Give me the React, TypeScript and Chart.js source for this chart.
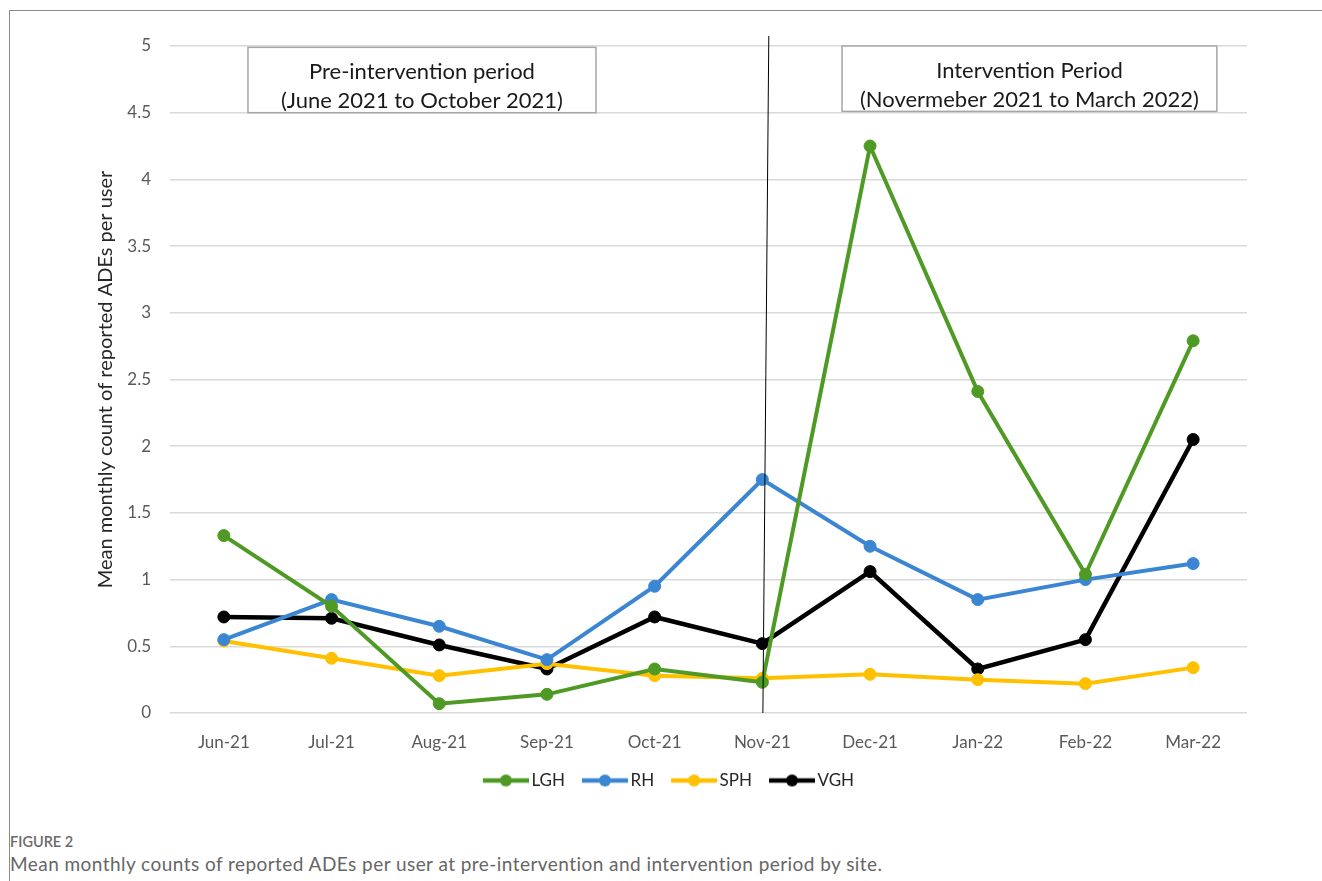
import React, { useEffect, useRef } from "react";
import { Chart, registerables } from "chart.js";

Chart.register(...registerables);

const months = ["Jun-21", "Jul-21", "Aug-21", "Sep-21", "Oct-21", "Nov-21", "Dec-21", "Jan-22", "Feb-22", "Mar-22"];
const lgh = [1.33, 0.8, 0.07, 0.14, 0.33, 0.23, 4.25, 2.41, 1.04, 2.79];
const rh = [0.55, 0.85, 0.65, 0.4, 0.95, 1.75, 1.25, 0.85, 1.0, 1.12];
const sph = [0.54, 0.41, 0.28, 0.37, 0.28, 0.26, 0.29, 0.25, 0.22, 0.34];
const vgh = [0.72, 0.71, 0.51, 0.33, 0.72, 0.52, 1.06, 0.33, 0.55, 2.05];
const seriesNames = ["LGH", "RH", "SPH", "VGH"];
const seriesColors = ["#4E9A24", "#3A86D2", "#FFC000", "#000000"];
const preLabel = ["Pre-intervention period", "(June 2021 to October 2021)"];
const postLabel = ["Intervention Period", "(Novermeber 2021 to March 2022)"];
const yTitle = "Mean monthly count of reported ADEs per user";
const captionHead = "FIGURE 2";
const captionText = "Mean monthly counts of reported ADEs per user at pre-intervention and intervention period by site.";

const FONT = "Lato, 'Noto Sans', sans-serif";

function legendImage(color: string): HTMLCanvasElement {
  const c = document.createElement("canvas");
  c.width = 51;
  c.height = 14;
  const g = c.getContext("2d")!;
  g.strokeStyle = color;
  g.lineWidth = 4.5;
  g.beginPath();
  g.moveTo(5, 7);
  g.lineTo(51, 7);
  g.stroke();
  g.fillStyle = color;
  g.beginPath();
  g.arc(28, 7, 6, 0, Math.PI * 2);
  g.fill();
  return c;
}

const annotations = {
  id: "annotations",
  afterDatasetsDraw(chart: any) {
    const { ctx, scales } = chart;
    const x = scales.x;
    const y = scales.y;
    const drawBox = (x0: number, x1: number, y0: number, y1: number, lines: string[]) => {
      const l = x.getPixelForValue(x0);
      const r = x.getPixelForValue(x1);
      const t = y.getPixelForValue(y0);
      const b = y.getPixelForValue(y1);
      ctx.save();
      ctx.fillStyle = "#ffffff";
      ctx.fillRect(l, t, r - l, b - t);
      ctx.strokeStyle = "#a6a6a6";
      ctx.lineWidth = 1.5;
      ctx.strokeRect(l, t, r - l, b - t);
      ctx.fillStyle = "#1a1a1a";
      ctx.font = `22px ${FONT}`;
      ctx.textAlign = "center";
      ctx.textBaseline = "middle";
      const cx = (l + r) / 2;
      ctx.fillText(lines[0], cx, t + 25);
      ctx.fillText(lines[1], cx, t + 54);
      ctx.restore();
    };
    drawBox(0.224, 3.455, 4.99, 4.5, preLabel);
    drawBox(5.74, 9.22, 5.0, 4.51, postLabel);
    ctx.save();
    ctx.strokeStyle = "#000000";
    ctx.lineWidth = 1;
    ctx.beginPath();
    ctx.moveTo(x.getPixelForValue(5.06), y.getPixelForValue(5.075));
    ctx.lineTo(x.getPixelForValue(5.005), y.getPixelForValue(0));
    ctx.stroke();
    ctx.restore();
  },
};

export default function App() {
  const ref = useRef<HTMLCanvasElement | null>(null);
  useEffect(() => {
    if (!ref.current) return;
    const data = [lgh, rh, sph, vgh];
    const chart = new Chart(ref.current, {
      type: "line",
      data: {
        labels: months,
        datasets: seriesNames.map((name, i) => ({
          label: name,
          data: data[i],
          borderColor: seriesColors[i],
          backgroundColor: seriesColors[i],
          borderWidth: i === 3 ? 4.5 : 4,
          pointRadius: 6,
          pointBackgroundColor: seriesColors[i],
          pointBorderColor: seriesColors[i],
          pointBorderWidth: 1,
          tension: 0,
        })),
      },
      options: {
        responsive: false,
        animation: false,
        layout: { padding: { left: 91, right: 75, top: 46, bottom: 0 } },
        plugins: {
          tooltip: { enabled: false },
          legend: {
            position: "bottom",
            labels: {
              usePointStyle: true,
              pointStyleWidth: 39,
              padding: 18,
              color: "#262626",
              font: { family: FONT, size: 17 },
              generateLabels: (chart: any) =>
                chart.data.datasets.map((ds: any, i: number) => ({
                  text: ds.label,
                  pointStyle: legendImage(seriesColors[i]),
                  fillStyle: seriesColors[i],
                  strokeStyle: seriesColors[i],
                  lineWidth: 0,
                  hidden: false,
                  datasetIndex: i,
                  fontColor: "#262626",
                })),
            },
          },
        },
        scales: {
          x: {
            offset: true,
            grid: { display: false, drawTicks: false },
            border: { display: false },
            ticks: { color: "#595959", padding: 19, font: { family: FONT, size: 17 }, maxRotation: 0 },
            afterFit: (s: any) => {
              s.height = 41;
            },
          },
          y: {
            min: 0,
            max: 5,
            border: { display: false },
            grid: { color: "#d9d9d9", lineWidth: 1.5, drawTicks: false },
            ticks: {
              stepSize: 0.5,
              color: "#595959",
              padding: 19,
              font: { family: FONT, size: 17 },
              callback: (v: any) => String(Number(v)),
            },
            title: {
              display: true,
              text: yTitle,
              color: "#262626",
              font: { family: FONT, size: 20 },
              padding: { top: 3, bottom: 4 },
            },
            afterFit: (s: any) => {
              s.width = 79;
            },
          },
        },
      },
      plugins: [annotations],
    });
    return () => chart.destroy();
  }, []);

  return (
    <div style={{ position: "fixed", left: 0, top: 0, width: 1322, height: 881, background: "#fff", overflow: "hidden" }}>
      <div
        style={{
          position: "absolute",
          left: 9,
          top: 10,
          right: 0,
          bottom: 0,
          borderTop: "1.5px solid #8a8a8a",
          borderLeft: "1.5px solid #8a8a8a",
        }}
      />
      <canvas ref={ref} width={1322} height={799} style={{ position: "absolute", left: 0, top: 0, width: 1322, height: 799 }} />
      <div
        style={{
          position: "absolute",
          left: 10,
          top: 833,
          fontFamily: FONT,
          fontSize: 14.5,
          fontWeight: 600,
          color: "#6a6a6a",
          whiteSpace: "nowrap",
        }}
      >
        {captionHead}
      </div>
      <div
        style={{
          position: "absolute",
          left: 10,
          top: 852,
          fontFamily: FONT,
          fontSize: 19,
          letterSpacing: 0.45,
          color: "#666666",
          whiteSpace: "nowrap",
        }}
      >
        {captionText}
      </div>
    </div>
  );
}
